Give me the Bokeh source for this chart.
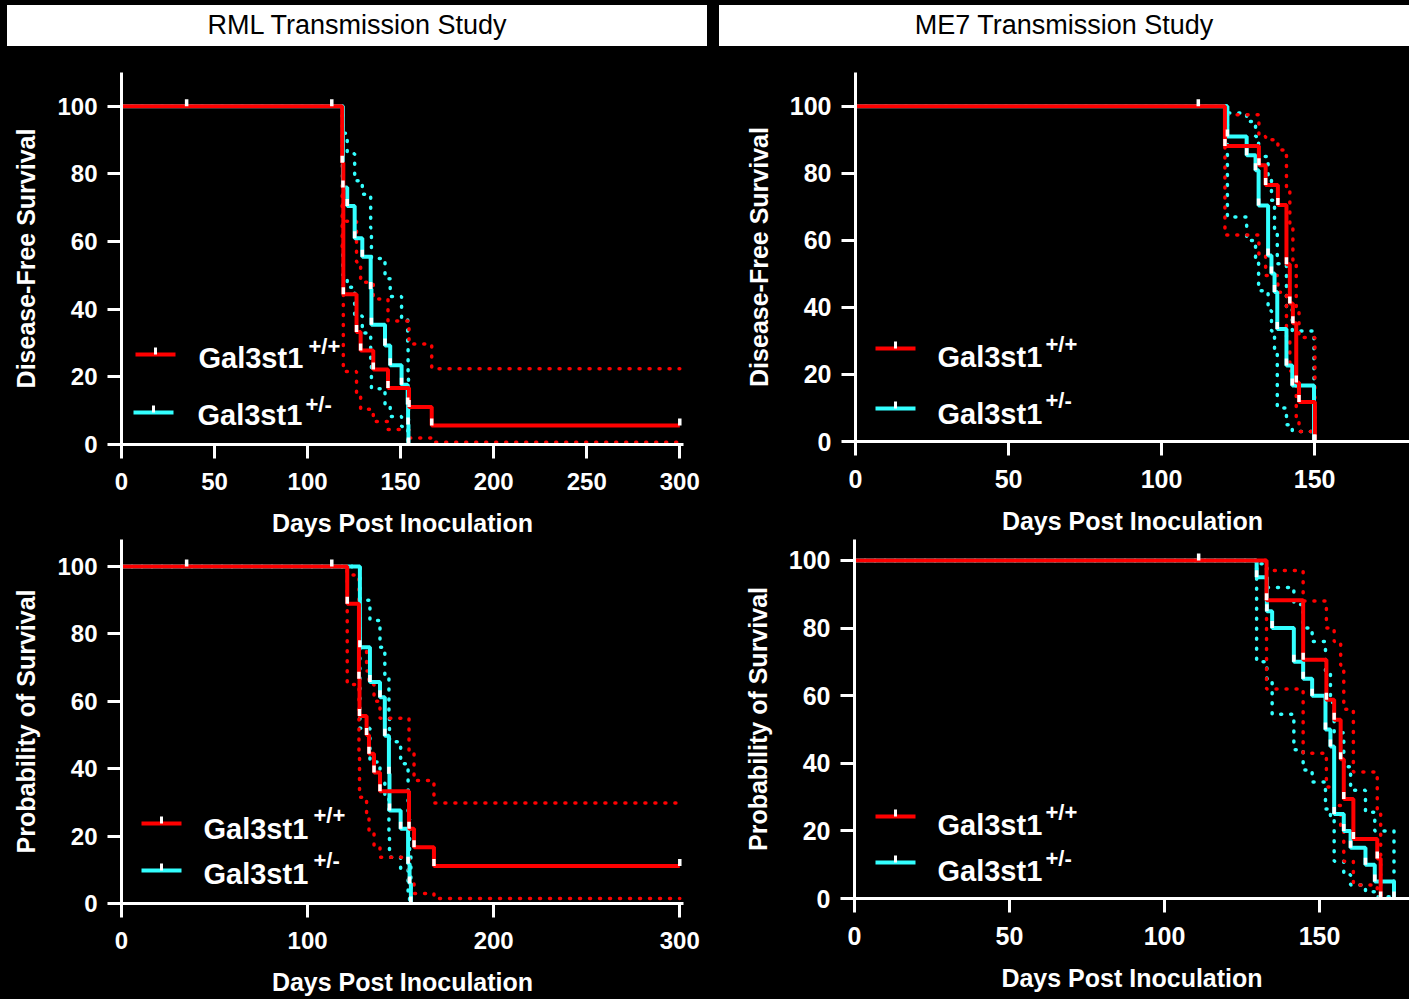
from bokeh.plotting import figure
from bokeh.layouts import column, row
from bokeh.models import Div, Range1d, FixedTicker, Label
from bokeh.embed import file_html
from bokeh.resources import INLINE

# ------------------------------------------------------------------ data
panel_titles = ["RML Transmission Study", "ME7 Transmission Study"]
group_name = "Gal3st1"
group_supers = ["+/+", "+/-"]
x_label = "Days Post Inoculation"
y_labels = ["Disease-Free Survival", "Probability of Survival"]

rml_ticks_top = [0, 50, 100, 150, 200, 250, 300]
rml_ticks_bottom = [0, 100, 200, 300]
me7_ticks = [0, 50, 100, 150]
y_ticks = [0, 20, 40, 60, 80, 100]

# RML - disease-free survival
rml_dfs_wt_days = [0, 118.6, 119.2, 126.3, 128.5, 135.3, 143.2, 154.5, 166.7, 300]
rml_dfs_wt_surv = [100, 83.3, 44.4, 33.3, 27.8, 22.2, 16.7, 11.1, 5.6, 5.6]
rml_dfs_wt_upper = [100, 97, 66, 54, 48, 43, 36.5, 29.7, 22.4, 22.4]
rml_dfs_wt_lower = [100, 58, 21.6, 14.7, 10.4, 6.8, 4.4, 1.9, 0.7, 0.7]
rml_dfs_het_days = [0, 119.0, 121.3, 125.3, 129.4, 133.9, 134.3, 141.6, 144.4, 150.5, 153.8, 154.0, 154.2]
rml_dfs_het_surv = [100, 76, 70.5, 61, 55.5, 46, 35.4, 29.3, 23.4, 17.7, 11.8, 5.9, 0]
rml_dfs_het_upper = [100, 92, 86, 78, 74, 64, 55, 49, 43.8, 37, 29, 20, 0]
rml_dfs_het_lower = [100, 50, 46.5, 38, 33, 25, 16.5, 12, 8.3, 5.3, 2.5, 1, 0]
rml_dfs_censor_days = [35, 113, 300]
rml_dfs_censor_surv = [100, 100, 5.6]

# ME7 - disease-free survival
me7_dfs_wt_days = [0, 120.7, 131.8, 134.0, 138.0, 140.8, 141.9, 142.9, 144.0, 144.9, 150.1]
me7_dfs_wt_surv = [100, 88.2, 82.4, 76.5, 70.6, 52.9, 41.2, 35.3, 17.6, 11.8, 0]
me7_dfs_wt_upper = [100, 97.5, 91, 90, 87, 75.6, 64, 53, 38.6, 31, 0]
me7_dfs_wt_lower = [100, 61.6, 55.5, 49.5, 44.5, 30, 21, 17, 6, 3, 0]
me7_dfs_het_days = [0, 121.5, 127.8, 130.7, 131.7, 134.8, 135.9, 136.9, 137.8, 140.8, 142.7, 149.8]
me7_dfs_het_surv = [100, 91, 85.4, 80.9, 70.4, 55.5, 50.1, 44.6, 33.6, 22.7, 16.7, 0]
me7_dfs_het_upper = [100, 98, 95.5, 91, 85, 78, 72, 62, 53, 40, 33, 0]
me7_dfs_het_lower = [100, 67, 60, 54.6, 45, 39, 33, 26, 10, 5, 3, 0]
me7_dfs_censor_days = [112]
me7_dfs_censor_surv = [100]

# RML - probability of survival
rml_surv_wt_days = [0, 121.3, 127.6, 127.9, 131.7, 133.0, 135.7, 138.9, 154.5, 157.2, 167.9, 300]
rml_surv_wt_surv = [100, 88.9, 66.7, 55.6, 50, 44.4, 38.9, 33.3, 22.2, 16.7, 11.1, 11.1]
rml_surv_wt_upper = [100, 97.5, 85, 75, 69, 65, 60, 55, 45, 36.5, 29.8, 29.8]
rml_surv_wt_lower = [100, 65, 44, 31.5, 26.7, 21, 17, 13.7, 6.8, 3, 1.5, 1.5]
rml_surv_het_days = [0, 128.1, 133.5, 138.9, 141.5, 143.7, 144.0, 150.0, 154.0, 154.8, 155.5]
rml_surv_het_surv = [100, 76, 65.7, 61.2, 49.8, 38.5, 27.6, 22.2, 11.8, 5.9, 0]
rml_surv_het_upper = [100, 90, 84, 76, 68, 56, 48, 41.5, 25, 15, 0]
rml_surv_het_lower = [100, 52, 42, 36, 31, 20, 13.7, 10, 2, 1, 0]
rml_surv_censor_days = [35, 113, 300]
rml_surv_censor_surv = [100, 100, 11.1]

# ME7 - probability of survival
me7_surv_wt_days = [0, 132.9, 144.7, 152.2, 154.7, 156.8, 157.8, 160.9, 168.6, 169.7]
me7_surv_wt_surv = [100, 88.2, 70.6, 58.8, 52.9, 41.2, 29.4, 17.6, 11.8, 0]
me7_surv_wt_upper = [100, 97, 88, 80, 76, 69, 56, 37.4, 25.5, 0]
me7_surv_wt_lower = [100, 62, 43, 33, 27.5, 20, 11, 4, 1.5, 0]
me7_surv_het_days = [0, 129.7, 133.0, 134.7, 141.7, 144.7, 147.6, 151.9, 153.5, 154.7, 157.8, 160.0, 164.8, 167.8, 174.0]
me7_surv_het_surv = [100, 95, 85, 80, 70, 65, 60, 50, 45, 25, 20, 15, 10, 5, 0]
me7_surv_het_upper = [100, 99, 92, 92, 87, 80, 76, 67, 58, 49, 39, 32, 25.5, 20, 0]
me7_surv_het_lower = [100, 70, 65, 54.5, 44, 38, 34.5, 26.5, 23, 11, 7, 4, 2, 0.5, 0]
me7_surv_censor_days = [111]
me7_surv_censor_surv = [100]

# ------------------------------------------------------------------ style
RED = "#ff0000"
CYAN = "#33ffff"
FONT = "Liberation Sans"


def make_panel(g, x_end, y_end, xticks, ylabel, series, censor, legend, tick_size, lab_size):
    p = figure(frame_width=g["fw"], frame_height=g["fh"],
               x_range=Range1d(0, x_end), y_range=Range1d(0, y_end),
               min_border_left=g["bl"], min_border_right=g["br"],
               min_border_top=g["bt"], min_border_bottom=g["bb"],
               output_backend="svg", toolbar_location=None,
               background_fill_color="black", border_fill_color="black",
               outline_line_color=None)
    p.xgrid.visible = False
    p.ygrid.visible = False
    p.xaxis.ticker = FixedTicker(ticks=xticks)
    p.yaxis.ticker = FixedTicker(ticks=y_ticks)
    p.xaxis.axis_label = x_label
    p.yaxis.axis_label = ylabel
    for ax in (p.xaxis[0], p.yaxis[0]):
        ax.axis_line_color = "white"
        ax.axis_line_width = 3
        ax.major_tick_line_color = "white"
        ax.major_tick_line_width = 3
        ax.major_tick_out = 14
        ax.major_tick_in = 0
        ax.minor_tick_line_color = None
        ax.major_label_text_color = "white"
        ax.major_label_text_font = FONT
        ax.major_label_text_font_style = "bold"
        ax.major_label_text_font_size = tick_size
        ax.axis_label_text_color = "white"
        ax.axis_label_text_font = FONT
        ax.axis_label_text_font_style = "bold"
        ax.axis_label_text_font_size = lab_size
    p.xaxis.major_label_standoff = 14
    p.yaxis.major_label_standoff = 10
    p.xaxis.axis_label_standoff = 16
    p.yaxis.axis_label_standoff = 14

    ppy = g["fh"] / y_end
    ppx = g["fw"] / x_end
    tick_h = 7.0 / ppy

    # confidence bands (dotted)
    for days, surv, upper, lower, color in series:
        for band in (upper, lower):
            p.step(days, band, mode="after", line_color=color, line_width=3.5,
                   line_dash="1 9", line_cap="round")
    # survival curves
    for days, surv, upper, lower, color in series:
        p.step(days, surv, mode="after", line_color=color, line_width=4)
    # white marks at the bottom of every drop
    for days, surv, upper, lower, color in series:
        xs = [days[i] for i in range(1, len(days)) if surv[i] < surv[i - 1]]
        ys = [surv[i] for i in range(1, len(days)) if surv[i] < surv[i - 1]]
        p.segment(x0=xs, y0=ys, x1=xs, y1=[v + tick_h for v in ys],
                  line_color="white", line_width=3.5)
    cdays, csurv = censor
    p.segment(x0=cdays, y0=csurv, x1=cdays, y1=[v + tick_h for v in csurv],
              line_color="white", line_width=3.5)

    # legend (drawn manually, positions in page pixels)
    def dx(px):
        return (px - g["fl"]) / ppx

    def dy(py):
        return (g["ft"] + g["fh"] - py) / ppy

    for (x0, x1, ly, tx, tby, sx, sby), color, sup in zip(legend, (RED, CYAN), group_supers):
        p.segment(x0=[dx(x0)], y0=[dy(ly)], x1=[dx(x1)], y1=[dy(ly)],
                  line_color=color, line_width=4)
        mid = dx((x0 + x1) / 2)
        p.segment(x0=[mid], y0=[dy(ly)], x1=[mid], y1=[dy(ly - 7)],
                  line_color="white", line_width=3)
        p.add_layout(Label(x=dx(tx), y=dy(tby - 12), text=group_name, text_color="white",
                           text_font=FONT, text_font_style="bold",
                           text_font_size="29px", text_baseline="alphabetic",
                           text_align="left"))
        p.add_layout(Label(x=dx(sx), y=dy(sby - 8), text=sup, text_color="white",
                           text_font=FONT, text_font_style="bold",
                           text_font_size="22px", text_baseline="alphabetic",
                           text_align="left"))
    return p


G1 = dict(fl=121, ft=71, fw=562, fh=372, bl=121, br=26, bt=21, bb=96)
G2 = dict(fl=855, ft=72, fw=554, fh=369, bl=146, br=0, bt=22, bb=98)
G3 = dict(fl=121, ft=539, fw=562, fh=364, bl=121, br=26, bt=0, bb=96)
G4 = dict(fl=854, ft=539, fw=555, fh=359, bl=145, br=0, bt=0, bb=101)

L1 = [(135, 175, 353, 198, 368, 308, 353), (133, 173, 411, 197, 425, 305, 411)]
L2 = [(875, 915, 348, 937, 368, 1045, 352), (875, 915, 408, 937, 425, 1045, 408)]
L3 = [(141, 181, 823, 203, 840, 313, 823), (141, 181, 870, 203, 885, 313, 868)]
L4 = [(875, 915, 816, 937, 836, 1045, 820), (875, 915, 862, 937, 882, 1045, 866)]

p1 = make_panel(G1, 302, 110, rml_ticks_top, y_labels[0],
                [(rml_dfs_het_days, rml_dfs_het_surv, rml_dfs_het_upper, rml_dfs_het_lower, CYAN),
                 (rml_dfs_wt_days, rml_dfs_wt_surv, rml_dfs_wt_upper, rml_dfs_wt_lower, RED)],
                (rml_dfs_censor_days, rml_dfs_censor_surv), L1, "24px", "25px")
p2 = make_panel(G2, 181, 110.1, me7_ticks, y_labels[0],
                [(me7_dfs_het_days, me7_dfs_het_surv, me7_dfs_het_upper, me7_dfs_het_lower, CYAN),
                 (me7_dfs_wt_days, me7_dfs_wt_surv, me7_dfs_wt_upper, me7_dfs_wt_lower, RED)],
                (me7_dfs_censor_days, me7_dfs_censor_surv), L2, "25px", "25px")
p3 = make_panel(G3, 302, 108.0, rml_ticks_bottom, y_labels[1],
                [(rml_surv_het_days, rml_surv_het_surv, rml_surv_het_upper, rml_surv_het_lower, CYAN),
                 (rml_surv_wt_days, rml_surv_wt_surv, rml_surv_wt_upper, rml_surv_wt_lower, RED)],
                (rml_surv_censor_days, rml_surv_censor_surv), L3, "24px", "25px")
p4 = make_panel(G4, 179, 106.2, me7_ticks, y_labels[1],
                [(me7_surv_het_days, me7_surv_het_surv, me7_surv_het_upper, me7_surv_het_lower, CYAN),
                 (me7_surv_wt_days, me7_surv_wt_surv, me7_surv_wt_upper, me7_surv_wt_lower, RED)],
                (me7_surv_censor_days, me7_surv_censor_surv), L4, "25px", "25px")


def title_div(text, left, width, total):
    style = ("margin-left:%dpx; margin-top:5px; width:%dpx; height:41px; background:white; "
             "color:black; font-family:'Liberation Sans',Arial,sans-serif; "
             "font-size:27px; line-height:41px; text-align:center; white-space:nowrap;"
             % (left, width))
    return Div(text='<div style="%s">%s</div>' % (style, text), width=total, height=50,
               margin=0, styles={"background-color": "black"})


d1 = title_div(panel_titles[0], 7, 700, 709)
d2 = title_div(panel_titles[1], 10, 690, 700)

layout = column(row(d1, d2, spacing=0), row(p1, p2, spacing=0), row(p3, p4, spacing=0),
                spacing=0, styles={"background-color": "black"})

html = file_html(layout, INLINE)
html = html.replace("<body>", '<body style="margin:0; background-color:black;">', 1)
open("out.html", "w").write(html)
